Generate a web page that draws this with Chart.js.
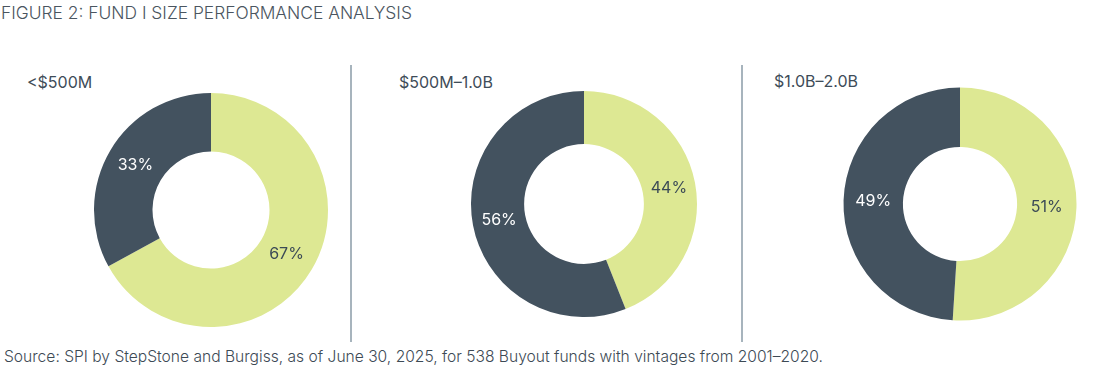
<!DOCTYPE html>
<html>
<head>
<meta charset="utf-8">
<script src="https://cdn.jsdelivr.net/npm/chart.js@4.4.0/dist/chart.umd.min.js"></script>
<style>
  html, body { margin:0; padding:0; background:#fff; }
  body { width:1111px; height:375px; position:relative; overflow:hidden; font-family:"Inter", "Roboto", sans-serif; }
  .title { position:absolute; left:1px; top:2px; font-size:17.4px; font-weight:300; color:#4a5560; white-space:nowrap; }
  .source { position:absolute; left:4px; top:347px; font-size:15.6px; font-weight:300; color:#3d4a55; white-space:nowrap; }
  .plabel { position:absolute; font-size:16px; font-weight:400; color:#3e4c58; white-space:nowrap; }
  .div { position:absolute; width:1.5px; background:#a7b4bd; top:65px; height:277px; }
  canvas { position:absolute; }
</style>
</head>
<body>
<div class="title">FIGURE 2: FUND I SIZE PERFORMANCE ANALYSIS</div>
<div class="plabel" style="left:27px;top:72px;">&lt;$500M</div>
<div class="plabel" style="left:399px;top:72px;">$500M–1.0B</div>
<div class="plabel" style="left:774px;top:71px;">$1.0B–2.0B</div>
<div class="div" style="left:350px;"></div>
<div class="div" style="left:741px;"></div>
<div id="wrap1" style="position:absolute;left:91px;top:90px;width:240px;height:240px;"><canvas id="c1"></canvas></div>
<div id="wrap2" style="position:absolute;left:464px;top:84px;width:240px;height:240px;"><canvas id="c2"></canvas></div>
<div id="wrap3" style="position:absolute;left:840px;top:84px;width:240px;height:240px;"><canvas id="c3"></canvas></div>
<div class="source">Source: SPI by StepStone and Burgiss, as of June 30, 2025, for 538 Buyout funds with vintages from 2001–2020.</div>
<script>
const categories = ["Light", "Dark"];
const panelTitles = ["<$500M", "$500M–1.0B", "$1.0B–2.0B"];
const small = [67, 33];
const mid = [44, 56];
const large = [51, 49];

const colors = ["#dde893", "#43525f"];
const labelColors = ["#3b4a56", "#ffffff"];

const labelPlugin = {
  id: 'pctLabels',
  afterDatasetsDraw(chart) {
    const ctx = chart.ctx;
    const meta = chart.getDatasetMeta(0);
    const data = chart.data.datasets[0].data;
    ctx.save();
    ctx.font = '400 16px Inter, Roboto, sans-serif';
    ctx.textAlign = 'center';
    ctx.textBaseline = 'middle';
    meta.data.forEach((arc, i) => {
      const p = arc.tooltipPosition();
      ctx.fillStyle = labelColors[i];
      ctx.fillText(data[i] + '%', p.x, p.y);
    });
    ctx.restore();
  }
};

function make(id, values, pad, cutout) {
  new Chart(document.getElementById(id), {
    type: 'doughnut',
    data: {
      labels: categories,
      datasets: [{ data: values, backgroundColor: colors, borderWidth: 0 }]
    },
    options: {
      responsive: true,
      maintainAspectRatio: false,
      animation: false,
      cutout: cutout,
      layout: { padding: pad },
      plugins: { legend: { display: false }, tooltip: { enabled: false } }
    },
    plugins: [labelPlugin]
  });
}
make('c1', small, 3, '50%');
make('c2', mid, 7, '53%');
make('c3', large, 3.5, '49%');
</script>
</body>
</html>
